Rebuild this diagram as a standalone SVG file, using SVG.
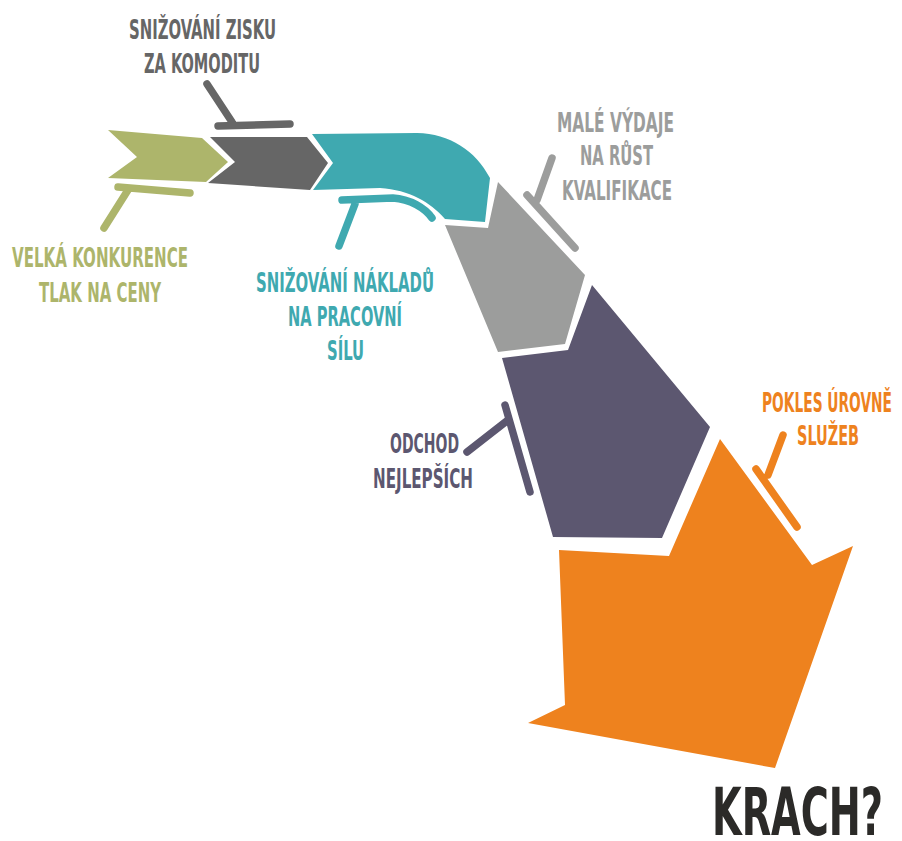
<svg xmlns="http://www.w3.org/2000/svg" width="902" height="841" viewBox="0 0 902 841">
<style>
text{font-family:"Liberation Sans Narrow","DejaVu Sans Condensed","Liberation Sans",Arial,sans-serif;font-weight:bold;font-size:27px;text-anchor:middle}
.lead{fill:none;stroke-width:7.5;stroke-linecap:round;stroke-linejoin:round}
.olive{fill:#adb56b}.dgray{fill:#666666}.teal{fill:#3fa9b0}.lgray{fill:#9c9d9c}.purple{fill:#5c5770}.orange{fill:#ee821e}
</style>
<rect width="902" height="841" fill="#ffffff"/>
<g id="step-konkurence">
<polygon class="olive" points="108,130 202,138 228,162 206,182 108,178 137,157"/>
<text class="olive" x="100" y="267" textLength="176" lengthAdjust="spacingAndGlyphs">VELKÁ KONKURENCE</text>
<text class="olive" x="100" y="302" textLength="122" lengthAdjust="spacingAndGlyphs">TLAK NA CENY</text>
</g>
<g id="step-zisk">
<polygon class="dgray" points="210,137 307,137 328,163 310,190 208,183 235,162"/>
<text class="dgray" x="202.5" y="39" textLength="147" lengthAdjust="spacingAndGlyphs">SNIŽOVÁNÍ ZISKU</text>
<text class="dgray" x="202" y="73" textLength="116" lengthAdjust="spacingAndGlyphs">ZA KOMODITU</text>
</g>
<g id="step-naklady">
<path class="teal" d="M312,134 L417,133 C450,134 475,150 490,178 L485,222 L445,219 C430,202 410,190 380,188 L313,190 L333,163 Z"/>
<text class="teal" x="345" y="292" textLength="178" lengthAdjust="spacingAndGlyphs">SNIŽOVÁNÍ NÁKLADŮ</text>
<text class="teal" x="345" y="326" textLength="114" lengthAdjust="spacingAndGlyphs">NA PRACOVNÍ</text>
<text class="teal" x="345.5" y="360" textLength="37" lengthAdjust="spacingAndGlyphs">SÍLU</text>
</g>
<g id="step-kvalifikace">
<polygon class="lgray" points="445,225 488,228 498,182 585,275 565,344 498,352"/>
<text class="lgray" x="615.5" y="132" textLength="117" lengthAdjust="spacingAndGlyphs">MALÉ VÝDAJE</text>
<text class="lgray" x="616.5" y="165" textLength="73" lengthAdjust="spacingAndGlyphs">NA RŮST</text>
<text class="lgray" x="617" y="200" textLength="110" lengthAdjust="spacingAndGlyphs">KVALIFIKACE</text>
</g>
<g id="step-odchod">
<polygon class="purple" points="502,358 568,350 592,285 710,427 662,538 553,537"/>
<text class="purple" x="424.5" y="453" textLength="69" lengthAdjust="spacingAndGlyphs">ODCHOD</text>
<text class="purple" x="423" y="488" textLength="100" lengthAdjust="spacingAndGlyphs">NEJLEPŠÍCH</text>
</g>
<g id="step-pokles">
<polygon class="orange" points="559,550 669,556 720,439 812,565 853,546 775,768 528,723 565,705"/>
<text class="orange" x="827" y="412" textLength="130" lengthAdjust="spacingAndGlyphs">POKLES ÚROVNĚ</text>
<text class="orange" x="828" y="445" textLength="62" lengthAdjust="spacingAndGlyphs">SLUŽEB</text>
</g>
<g id="result-krach">
<text x="797.5" y="835" style="font-size:65px;fill:#2b2a28" textLength="171" lengthAdjust="spacingAndGlyphs">KRACH?</text>
</g>
<g id="connectors">
<path class="lead" stroke="#adb56b" d="M118,187 L190,193 M128,190 L104,228"/>
<path class="lead" stroke="#666666" d="M218,126 L290,124 M207,84 L232,122"/>
<path class="lead" stroke="#3fa9b0" d="M342,200 L393,198 C410,199 425,208 432,218 M355,204 L339,246"/>
<path class="lead" stroke="#9c9d9c" d="M527,195 L575,248 M552,158 L537,200"/>
<path class="lead" stroke="#5c5770" d="M505,405 L530,492 M508,420 L467,452"/>
<path class="lead" stroke="#ee821e" d="M756,469 L797,527 M783,435 L768,475"/>
</g>
</svg>
